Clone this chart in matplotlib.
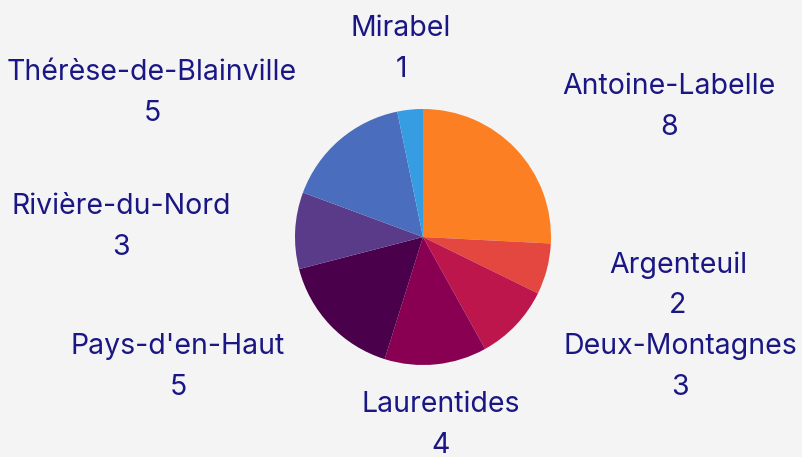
import matplotlib.pyplot as plt

# Données
regions = ["Antoine-Labelle", "Argenteuil", "Deux-Montagnes", "Laurentides",
           "Pays-d'en-Haut", "Rivière-du-Nord", "Thérèse-de-Blainville", "Mirabel"]
valeurs = [8, 2, 3, 4, 5, 3, 5, 1]
couleurs = ["#fd7f23", "#e3473f", "#bd164d", "#890052", "#4b004b",
            "#5a3b8a", "#4a6dbd", "#379de3"]

# Position des étiquettes (pixels de la figure, centre du bloc de texte)
pos_etiquettes = [(669, 107), (678, 285), (680, 367), (441, 425),
                  (178, 367), (121, 227), (152, 93), (401, 49)]

W, H = 803, 457
fond = "#f4f4f4"
texte = "#1a1785"

fig = plt.figure(figsize=(W / 100, H / 100), dpi=100, facecolor=fond)
ax = fig.add_axes([0, 0, 1, 1])
ax.set_facecolor(fond)

ax.pie(valeurs, colors=couleurs, startangle=90, counterclock=False,
       center=(423, H - 237), radius=128, frame=True,
       wedgeprops=dict(linewidth=0))
ax.set_xlim(0, W)
ax.set_ylim(0, H)
ax.set_aspect("equal")
ax.axis("off")

for nom, val, (x, y) in zip(regions, valeurs, pos_etiquettes):
    ax.text(x, H - y, f"{nom}\n{val}", ha="center", va="center",
            fontsize=20.5, color=texte, family="Inter", linespacing=1.62)

fig.savefig("out.png", dpi=100, facecolor=fond)
